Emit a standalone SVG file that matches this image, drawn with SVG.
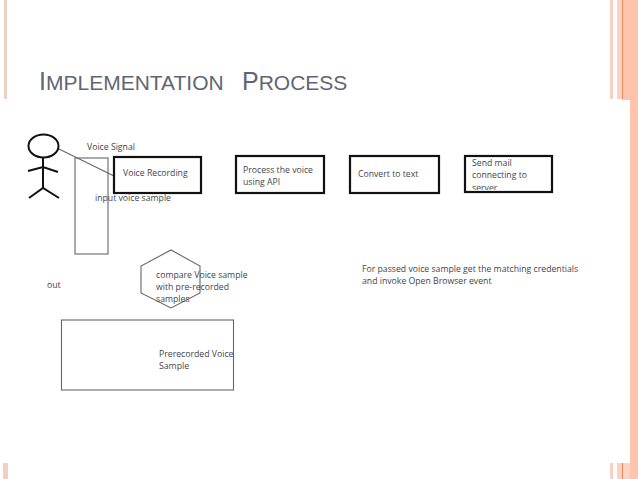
<svg xmlns="http://www.w3.org/2000/svg" width="638" height="479" viewBox="0 0 638 479">
<style>
.t{font-family:"Open Sans","Liberation Sans",sans-serif;font-size:8.700px;fill:#44444a}
.title{font-family:"Liberation Sans",Arial,sans-serif;font-size:25px;fill:#5f6672}
.title .s{font-size:21px}
.box{fill:none;stroke:#111;stroke-width:2.2}
.thin{fill:none;stroke:#666;stroke-width:1.100}
.fig{fill:none;stroke:#111;stroke-width:2}
</style>
<defs><clipPath id="c"><rect x="464" y="156" width="88" height="34"/></clipPath></defs>
<rect width="638" height="479" fill="#fff"/>
<g id="decor">
<rect x="4" y="0" width="3" height="99" fill="#f3cfc2"/>
<rect x="3" y="463" width="5" height="16" fill="#f3cfc2"/>
<rect x="610" y="0" width="3" height="99" fill="#f9cfc0"/>
<rect x="617" y="0" width="5" height="99" fill="#fbd2c2"/>
<rect x="622" y="0" width="16" height="100" fill="#ffc4ad"/>
<rect x="622" y="0" width="1" height="99" fill="#e88a5e"/>
<rect x="630" y="100" width="8" height="379" fill="#ffc4ad"/>
<rect x="610" y="463" width="3" height="16" fill="#f9cfc0"/>
<rect x="617" y="463" width="5" height="16" fill="#fbd2c2"/>
<rect x="622" y="463" width="8" height="16" fill="#ffd4c2"/>
<rect x="622" y="463" width="1" height="16" fill="#e88a5e"/>
</g>
<text class="title" x="39" y="90">I<tspan class="s">MPLEMENTATION</tspan><tspan x="242">P</tspan><tspan class="s">ROCESS</tspan></text>
<g id="connectors">
<line class="thin" x1="59" y1="149" x2="114" y2="176"/>
</g>
<g id="actor">
<ellipse class="fig" cx="43.500" cy="146" rx="15" ry="11.500"/>
<path class="fig" d="M43 158V188M28 171L43 167L58 172M29 198L43 188L59 198"/>
</g>
<g id="voice-signal"><text class="t" x="87" y="150">Voice Signal</text></g>
<g id="input-sample">
<rect class="thin" x="75" y="158" width="33" height="96"/>
<text class="t" x="95" y="201">input voice sample</text>
</g>
<g id="voice-recording">
<rect class="box" x="114" y="157" width="87" height="36"/>
<text class="t" x="123" y="176">Voice Recording</text>
</g>
<g id="process-voice">
<rect class="box" x="236" y="156" width="88" height="37"/>
<text class="t" x="243" y="173">Process the voice</text>
<text class="t" x="243" y="185">using API</text>
</g>
<g id="convert-text">
<rect class="box" x="350" y="156" width="89" height="37"/>
<text class="t" x="358" y="177">Convert to text</text>
</g>
<g id="send-mail">
<text class="t" x="472" y="165.500">Send mail</text>
<text class="t" x="472" y="178">connecting to</text>
<text class="t" x="472" y="190.500" clip-path="url(#c)">server</text>
<rect class="box" x="465" y="156" width="87" height="36"/>
</g>
<g id="out"><text class="t" x="47" y="288">out</text></g>
<g id="compare">
<polygon class="thin" points="171,250 200,266 200,293 171,308 141,293 141,266"/>
<text class="t" x="156" y="278">compare Voice sample</text>
<text class="t" x="156" y="290">with pre-recorded</text>
<text class="t" x="156" y="302">samples</text>
</g>
<g id="prerecorded">
<rect class="thin" x="61.500" y="320" width="172" height="70"/>
<text class="t" x="159" y="357">Prerecorded Voice</text>
<text class="t" x="159" y="369">Sample</text>
</g>
<g id="note">
<text class="t" x="362" y="272">For passed voice sample get the matching credentials</text>
<text class="t" x="362" y="284">and invoke Open Browser event</text>
</g>
</svg>
